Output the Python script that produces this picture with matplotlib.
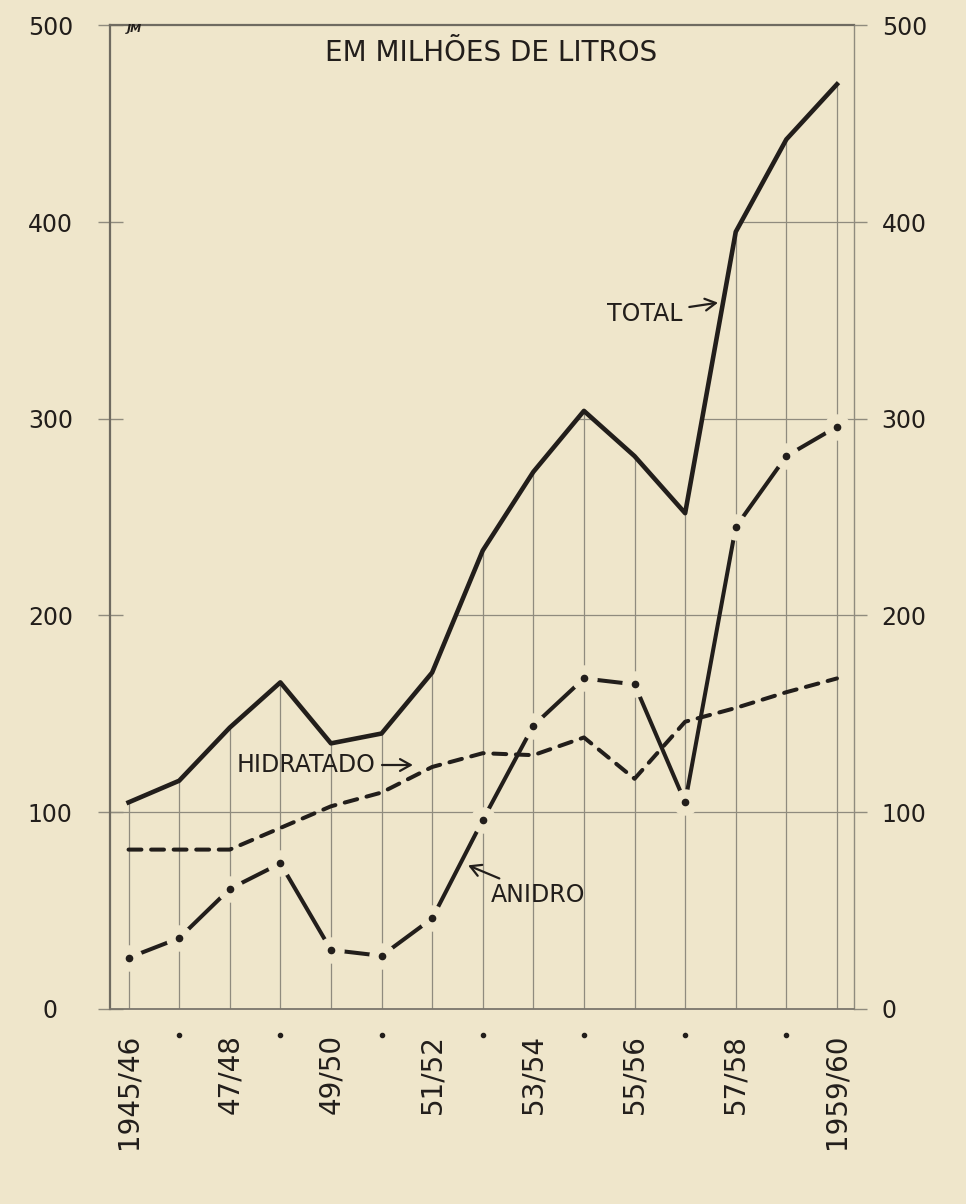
import matplotlib.pyplot as plt
import numpy as np
from matplotlib.patches import Polygon

plt.rcParams['font.family'] = ['DejaVu Sans']

# safra (season) labels and values, millions of litres
seasons = ['1945/46', '46/47', '47/48', '48/49', '49/50', '50/51', '51/52', '52/53',
           '53/54', '54/55', '55/56', '56/57', '57/58', '58/59', '1959/60']
total = [105, 116, 143, 166, 135, 140, 171, 233, 273, 304, 281, 252, 395, 442, 470]
hidratado = [81, 81, 81, 92, 103, 110, 123, 130, 129, 138, 117, 146, 153, 161, 168]
anidro = [26, 36, 61, 74, 30, 27, 46, 96, 144, 168, 165, 105, 245, 281, 296]
yticks = [0, 100, 200, 300, 400, 500]

bg = '#efe6cb'
ink = '#221e1b'
grid_c = '#8f8b7e'

fig = plt.figure(figsize=(9.66, 12.04), dpi=100, facecolor=bg)
ax = fig.add_axes([0.1139, 0.162, 0.884 - 0.1139, 0.979 - 0.162])
ax.set_facecolor(bg)

x = np.arange(len(seasons))
xl, xr = -0.366, 14.336
ax.set_xlim(xl, xr)
ax.set_ylim(0, 500)

# grid only under the total curve
verts = [(xl, 0), (xl, total[0])] + list(zip(x, total)) + [(xr, total[-1]), (xr, 0)]
clip = Polygon(verts, closed=True, transform=ax.transData, fc='none', ec='none')
ax.add_patch(clip)
vl = ax.vlines(x, 0, 500, color=grid_c, lw=0.9, zorder=1)
vl.set_clip_path(clip)
hl = ax.hlines(yticks[1:-1], xl, xr, color=grid_c, lw=0.9, zorder=1)
hl.set_clip_path(clip)

# series
ax.plot(x, total, color=ink, lw=3.3, zorder=4)
ax.plot(x, anidro, color=ink, lw=2.9, solid_capstyle='round', zorder=3)
ax.plot(x, anidro, 'o', ms=19, mfc=bg, mec='none', zorder=3.4)
ax.plot(x, anidro, 'o', ms=4.5, color=ink, zorder=3.5)
ax.plot(x, hidratado, color=ink, lw=2.9, linestyle=(0, (3.2, 2.4)),
        dash_capstyle='round', zorder=3.7)

# spines
for s in ['left', 'top']:
    ax.spines[s].set_color('#6f6b61')
    ax.spines[s].set_linewidth(1.6)
ax.spines['bottom'].set_color('#7a766c')
ax.spines['bottom'].set_linewidth(1.3)
ax.spines['right'].set_color(grid_c)
ax.spines['right'].set_linewidth(1.0)

# left axis
ax.set_yticks(yticks)
ax.set_yticklabels([str(v) for v in yticks])
ax.tick_params(axis='y', direction='inout', length=18, width=1, color=grid_c,
               pad=34, labelsize=17, labelcolor=ink)
for lbl in ax.get_yticklabels():
    lbl.set_horizontalalignment('center')

# right axis
ax2 = ax.twinx()
ax2.set_ylim(0, 500)
ax2.set_yticks(yticks)
ax2.set_yticklabels([str(v) for v in yticks])
ax2.tick_params(axis='y', direction='out', length=9, width=1, color=grid_c,
                pad=11, labelsize=17, labelcolor=ink)
for s in ax2.spines.values():
    s.set_visible(False)

# x axis: labels every other season, dots between
ax.set_xticks(x[::2])
ax.set_xticklabels(seasons[::2])
ax.tick_params(axis='x', length=0, pad=18, labelsize=20, labelrotation=90, labelcolor=ink)
ax.plot(x[1::2], [-0.0265] * len(x[1::2]), transform=ax.get_xaxis_transform(),
        ls='none', marker='o', ms=3, color=ink, clip_on=False)

# text
ax.text(7.16, 486, 'EM MILHÕES DE LITROS', ha='center', va='center', fontsize=20, color=ink)
ax.text(-0.03, 498, 'JM', ha='left', va='center', fontsize=8, style='italic',
        weight='bold', color=ink)

arrow = dict(arrowstyle='->,head_length=0.45,head_width=0.25', color=ink, lw=1.6,
             shrinkA=3, shrinkB=0)
ax.annotate('TOTAL', xy=(11.65, 359), xytext=(10.2, 353.4), ha='center', va='center',
            fontsize=17, color=ink, arrowprops=arrow)
ax.annotate('HIDRATADO', xy=(5.62, 124), xytext=(3.5, 124), ha='center', va='center',
            fontsize=17, color=ink, arrowprops=arrow)
ax.annotate('ANIDRO', xy=(6.71, 73), xytext=(8.1, 58), ha='center', va='center',
            fontsize=17, color=ink, arrowprops=arrow)

fig.savefig('out.png', dpi=100, facecolor=bg)
